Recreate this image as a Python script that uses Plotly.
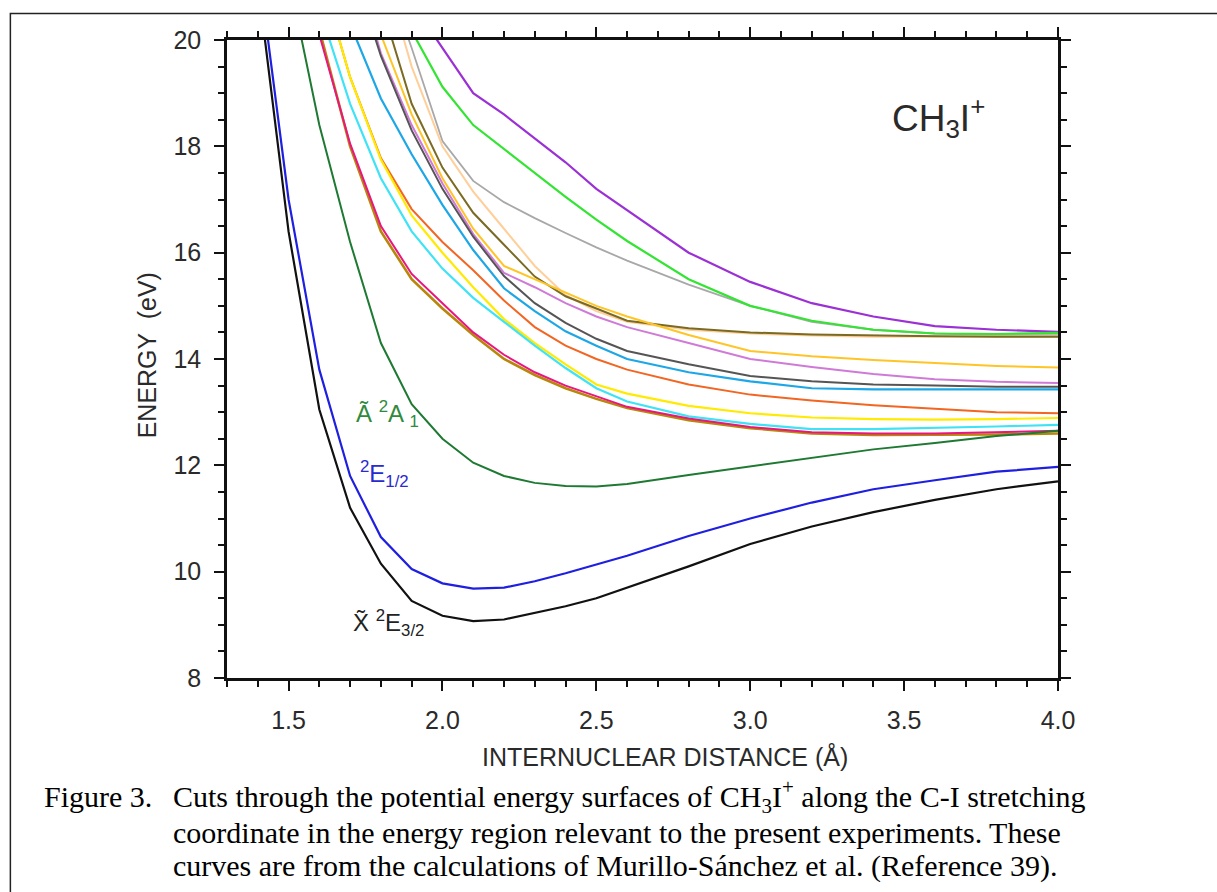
import plotly.graph_objects as go

# C-I distance grid (Angstrom) shared by all potential-energy cuts
r_grid = [1.4, 1.5, 1.6, 1.7, 1.8, 1.9, 2.0, 2.1, 2.2, 2.3, 2.4, 2.5, 2.6,
          2.8, 3.0, 3.2, 3.4, 3.6, 3.8, 4.0]

# Energies (eV); None where a state lies far above the plotted window
e_purple = [None, None, None, None, None, 20.7, 19.85, 19.0, 18.6, 18.15, 17.7, 17.2, 16.8,
            16.0, 15.45, 15.05, 14.8, 14.62, 14.55, 14.51]
e_green = [None, None, None, None, None, 20.17, 19.12, 18.4, 17.95, 17.5, 17.05, 16.62, 16.22,
           15.5, 15.0, 14.72, 14.55, 14.48, 14.47, 14.49]
e_gray = [None, None, None, None, 21.5, 19.85, 18.1, 17.35, 16.95, 16.65, 16.37, 16.1, 15.85,
          15.4, 15.0, 14.7, 14.55, 14.48, 14.45, 14.45]
e_tan = [None, None, None, None, 21.5, 19.5, 18.0, 17.15, 16.45, 15.75, 15.2, 14.9, 14.7,
         14.55, 14.48, 14.44, 14.42, 14.42, 14.42, 14.43]
e_olive = [None, None, None, None, 20.7, 18.8, 17.6, 16.75, 16.15, 15.55, 15.18, 14.95, 14.72,
           14.58, 14.5, 14.46, 14.44, 14.43, 14.42, 14.42]
e_gold = [None, None, None, None, 20.1, 18.6, 17.4, 16.45, 15.75, 15.5, 15.25, 15.0, 14.8,
          14.45, 14.15, 14.05, 13.98, 13.92, 13.87, 13.84]
e_orchid = [None, None, None, 21.8, 19.75, 18.4, 17.3, 16.35, 15.62, 15.35, 15.05, 14.8, 14.6,
            14.3, 14.0, 13.85, 13.72, 13.62, 13.57, 13.55]
e_darkgray = [None, None, None, 21.5, 19.7, 18.3, 17.2, 16.3, 15.56, 15.05, 14.68, 14.38, 14.15,
              13.9, 13.68, 13.58, 13.52, 13.5, 13.48, 13.48]
e_skyblue = [None, None, None, 20.3, 18.9, 17.85, 16.9, 16.05, 15.33, 14.9, 14.52, 14.25, 14.0,
             13.75, 13.58, 13.45, 13.43, 13.43, 13.43, 13.43]
e_orange = [None, None, 21.3, 19.3, 17.78, 16.82, 16.2, 15.67, 15.1, 14.6, 14.25, 14.0, 13.8,
            13.52, 13.33, 13.22, 13.13, 13.06, 13.0, 12.98]
e_yellow = [None, None, 21.3, 19.3, 17.75, 16.7, 16.0, 15.35, 14.75, 14.3, 13.9, 13.52, 13.35,
            13.12, 12.98, 12.9, 12.87, 12.86, 12.87, 12.89]
e_cyan = [None, None, 20.6, 18.8, 17.4, 16.4, 15.7, 15.15, 14.7, 14.25, 13.83, 13.45, 13.2,
          12.92, 12.78, 12.68, 12.68, 12.7, 12.73, 12.76]
e_goldenrod = [None, None, 20.2, 18.0, 16.4, 15.5, 14.95, 14.45, 14.0, 13.7, 13.45, 13.25, 13.08,
               12.85, 12.7, 12.6, 12.57, 12.57, 12.58, 12.6]
e_pink = [None, None, 20.1, 18.05, 16.5, 15.6, 15.05, 14.5, 14.08, 13.75, 13.5, 13.3, 13.1,
          12.88, 12.72, 12.62, 12.6, 12.6, 12.62, 12.65]
e_A2A1 = [None, 21.2, 18.4, 16.2, 14.3, 13.15, 12.5, 12.05, 11.8, 11.67, 11.61, 11.6, 11.65,
          11.82, 11.98, 12.15, 12.3, 12.42, 12.55, 12.65]
e_2E12 = [21.5, 17.0, 13.8, 11.8, 10.65, 10.05, 9.78, 9.68, 9.7, 9.82, 9.97, 10.13, 10.3,
          10.67, 11.0, 11.3, 11.55, 11.72, 11.88, 11.97]
e_X2E32 = [21.1, 16.4, 13.05, 11.2, 10.15, 9.45, 9.17, 9.07, 9.1, 9.22, 9.35, 9.5, 9.7,
           10.1, 10.52, 10.85, 11.12, 11.35, 11.55, 11.7]

curves = [
    (e_purple, "#9b30d4", 2.2),
    (e_gray, "#a8a8a8", 1.8),
    (e_green, "#33e433", 2.2),
    (e_tan, "#ffcf9a", 2.0),
    (e_olive, "#7a6a22", 2.0),
    (e_gold, "#ffc426", 2.0),
    (e_orchid, "#d07ad8", 2.0),
    (e_darkgray, "#555555", 2.0),
    (e_skyblue, "#1ea7e6", 2.2),
    (e_orange, "#f26522", 2.0),
    (e_yellow, "#ffea00", 2.2),
    (e_cyan, "#3fe3f5", 2.2),
    (e_goldenrod, "#b8860b", 2.6),
    (e_pink, "#e8177f", 2.0),
    (e_A2A1, "#1e7a32", 2.0),
    (e_2E12, "#1f1fe0", 2.2),
    (e_X2E32, "#111111", 2.2),
]

fig = go.Figure()
for energies, color, width in curves:
    fig.add_trace(go.Scatter(x=r_grid, y=energies, mode="lines",
                             line=dict(color=color, width=width),
                             showlegend=False, hoverinfo="skip"))

W, H = 1217, 892
L, R, T, B = 226.7, 1058.0, 39.5, 678.5


def px(x):
    return (x - L) / (R - L)


def py(y):
    return (B - y) / (B - T)


sans = "Liberation Sans, Arial, sans-serif"
serif = "Liberation Serif, Times New Roman, serif"

tick_font = dict(family=sans, size=25, color="#2a2a2a")
axis_common = dict(showline=True, linewidth=2.5, linecolor="#111", mirror="allticks",
                   ticks="outside", ticklen=10, tickwidth=2, tickcolor="#111",
                   showgrid=False, zeroline=False, tickfont=tick_font)

fig.update_xaxes(range=[1.3, 4.0], tick0=1.5, dtick=0.5, tickformat=".1f",
                 minor=dict(dtick=0.1, ticks="outside", ticklen=6, tickwidth=1.6,
                            tickcolor="#111", showgrid=False),
                 ticklabelstandoff=8, **axis_common)
fig.update_yaxes(range=[8, 20], tick0=8, dtick=2,
                 minor=dict(dtick=0.5, ticks="outside", ticklen=6, tickwidth=1.6,
                            tickcolor="#111", showgrid=False),
                 ticklabelstandoff=8, **axis_common)

caption_lines = [
    "Cuts through the potential energy surfaces of CH<sub>3</sub>I<sup>+</sup> "
    "along the C-I stretching",
    "coordinate in the energy region relevant to the present experiments. These",
    "curves are from the calculations of Murillo-Sánchez et al. (Reference 39).",
]
caption_y = [797, 833, 867]

annotations = [
    dict(x=px(147), y=py(355), text="ENERGY  (eV)", textangle=-90,
         font=dict(family=sans, size=25, color="#2a2a2a")),
    dict(x=px(665), y=py(757), text="INTERNUCLEAR DISTANCE (Å)",
         font=dict(family=sans, size=25, color="#2a2a2a")),
    dict(x=px(938), y=py(117), text="CH<sub>3</sub>I<sup>+</sup>",
         font=dict(family=sans, size=37, color="#2a2a2a")),
    dict(x=px(387), y=py(414), text="Ã <sup>2</sup>A <sub>1</sub>",
         font=dict(family=sans, size=24, color="#2f8a3c")),
    dict(x=px(384), y=py(474), text="<sup>2</sup>E<sub>1/2</sub>",
         font=dict(family=sans, size=24, color="#2a2ad0")),
    dict(x=px(388), y=py(623), text="X̃ <sup>2</sup>E<sub>3/2</sub>",
         font=dict(family=sans, size=24, color="#222")),
    dict(x=px(42), y=py(797), text="Figure 3.", xanchor="left",
         font=dict(family=serif, size=30, color="#000")),
]
for text, yc in zip(caption_lines, caption_y):
    annotations.append(dict(x=px(171), y=py(yc), text=text, xanchor="left", align="left",
                            font=dict(family=serif, size=30, color="#000")))

for a in annotations:
    a.setdefault("xref", "paper")
    a.setdefault("yref", "paper")
    a.setdefault("showarrow", False)
    a.setdefault("xanchor", "center")
    a.setdefault("yanchor", "middle")
fig.update_layout(annotations=annotations)

# Frame around the whole figure
fig.add_shape(type="rect", xref="paper", yref="paper",
              x0=px(10), x1=px(1230), y0=py(905), y1=py(13),
              line=dict(color="#222", width=1.5), fillcolor="rgba(0,0,0,0)", layer="below")

fig.update_layout(width=W, height=H, paper_bgcolor="white", plot_bgcolor="white",
                  margin=dict(l=L, r=W - R, t=T, b=H - B, autoexpand=False),
                  showlegend=False)

fig.write_html("out.html")
